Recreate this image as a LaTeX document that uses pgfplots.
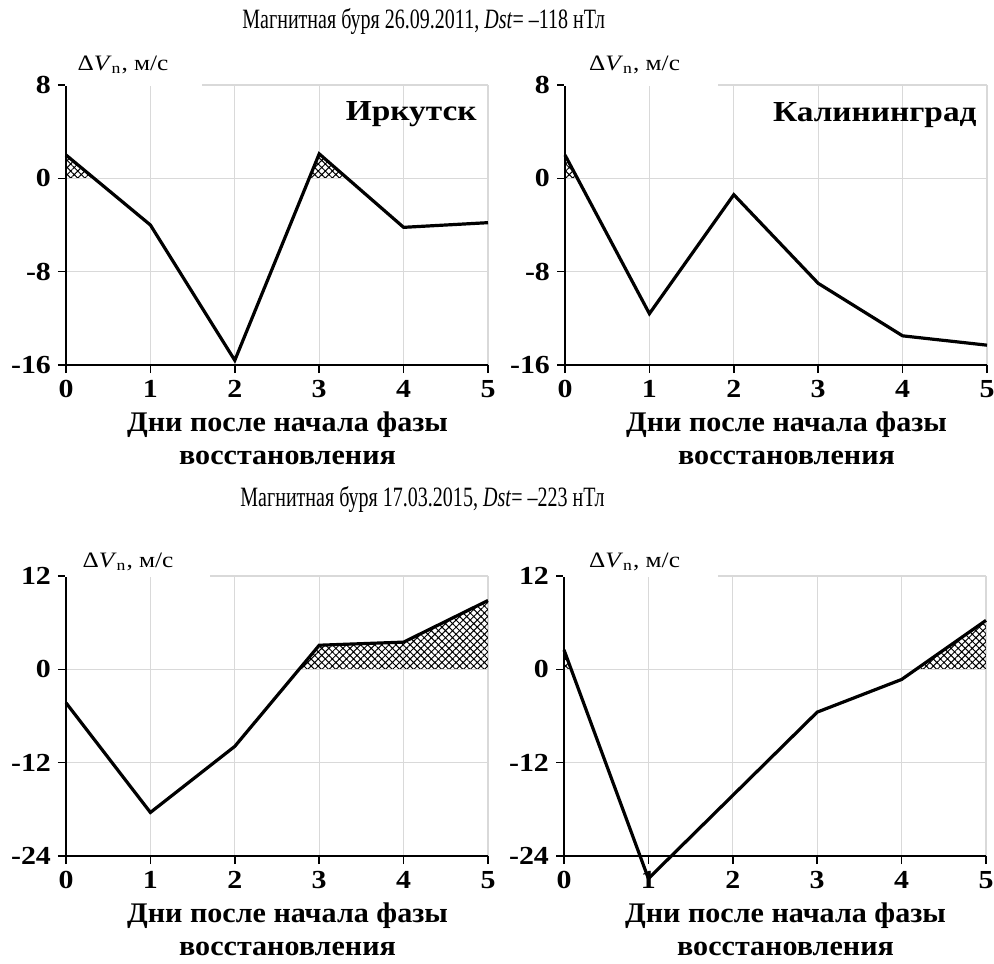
\documentclass[border=0pt]{standalone}
\usepackage{pgfplots}
\pgfplotsset{compat=1.18}
\usetikzlibrary{patterns.meta}
\usepackage{fontspec}
\setmainfont{Liberation Serif}
\newfontfamily\chartfont[FakeStretch=1.15]{Liberation Serif}
\newfontfamily\labelfont[FakeStretch=1.06]{Liberation Serif}
\newfontfamily\titlefont[FakeStretch=0.715]{Liberation Serif}

\pgfplotsset{
  panel/.style={
    scale only axis, width=211pt, height=140pt,
    xmin=0, xmax=5, enlargelimits=false, clip=false,
    axis lines=left, axis line style={-, black, line width=0.8pt},
    xtick={0,1,2,3,4,5}, xticklabels={0,1,2,3,4,5},
    grid=major, grid style={color=black!15, line width=0.6pt},
    tick align=outside, major tick length=4pt, tick style={black, line width=0.8pt},
    ticklabel style={font=\chartfont\bfseries\fontsize{13}{13}\selectfont},
    xlabel={Дни после начала фазы\\восстановления},
    xlabel style={font=\labelfont\bfseries\fontsize{14.2}{16.75}\selectfont, align=center,
      at={(axis description cs:0.525,0)}, anchor=north, inner sep=0pt, yshift=-23pt},
  },
  curve/.style={black, line width=1.6pt},
  hatch/.style={draw=none, pattern={Hatch[angle=45,distance=2.5pt,line width=0.5pt]}},
}

\begin{document}
\begin{tikzpicture}
\useasboundingbox (0,0) rectangle (497pt,-481.5pt);

% ---- Panel 1: Irkutsk, 2011
\begin{axis}[panel, at={(33pt,-182.5pt)}, anchor=south west,
  ymin=-16, ymax=8, ytick={-16,-8,0,8}, yticklabels={-16,-8,0,8}]
\begin{scope}
\clip ([yshift=0.5pt]axis cs:0,0) rectangle (axis cs:5,8);
\addplot[hatch] coordinates {(0,2.0) (1,-4.0) (2,-15.6) (3,2.1) (4,-4.2) (5,-3.8)} \closedcycle;
\end{scope}
\addplot[curve] coordinates {(0,2.0) (1,-4.0) (2,-15.6) (3,2.1) (4,-4.2) (5,-3.8)};
\end{axis}

% ---- Panel 2: Kaliningrad, 2011
\begin{axis}[panel, at={(282.5pt,-182.5pt)}, anchor=south west,
  ymin=-16, ymax=8, ytick={-16,-8,0,8}, yticklabels={-16,-8,0,8}]
\begin{scope}
\clip ([yshift=0.5pt]axis cs:0,0) rectangle (axis cs:5,8);
\addplot[hatch] coordinates {(0,2.0) (1,-11.6) (2,-1.4) (3,-9.0) (4,-13.5) (5,-14.3)} \closedcycle;
\end{scope}
\addplot[curve] coordinates {(0,2.0) (1,-11.6) (2,-1.4) (3,-9.0) (4,-13.5) (5,-14.3)};
\end{axis}

% ---- Panel 3: Irkutsk, 2015
\begin{axis}[panel, at={(33pt,-428pt)}, anchor=south west,
  ymin=-24, ymax=12, ytick={-24,-12,0,12}, yticklabels={-24,-12,0,12}]
\begin{scope}
\clip ([yshift=0.5pt]axis cs:0,0) rectangle (axis cs:5,12);
\addplot[hatch] coordinates {(0,-4.3) (1,-18.4) (2,-9.9) (3,3.1) (4,3.5) (5,8.85)} \closedcycle;
\end{scope}
\addplot[curve] coordinates {(0,-4.3) (1,-18.4) (2,-9.9) (3,3.1) (4,3.5) (5,8.85)};
\end{axis}

% ---- Panel 4: Kaliningrad, 2015
\begin{axis}[panel, at={(282pt,-428pt)}, anchor=south west,
  ymin=-24, ymax=12, ytick={-24,-12,0,12}, yticklabels={-24,-12,0,12}]
\begin{scope}
\clip ([yshift=0.5pt]axis cs:0,0) rectangle (axis cs:5,12);
\addplot[hatch] coordinates {(0,2.5) (1,-26.9) (2,-16.2) (3,-5.5) (4,-1.3) (5,6.3)} \closedcycle;
\end{scope}
\addplot[curve] coordinates {(0,2.5) (1,-26.9) (2,-16.2) (3,-5.5) (4,-1.3) (5,6.3)};
\end{axis}

% label boxes hiding the top grid line
\fill[white] (32.6pt,-20pt) rectangle (101pt,-42.9pt);
\fill[white] (282.1pt,-20pt) rectangle (359pt,-42.9pt);
\fill[white] (32.6pt,-271pt) rectangle (105pt,-288.4pt);
\fill[white] (281.6pt,-271pt) rectangle (359pt,-288.4pt);

\tikzset{vlab/.style={anchor=base, inner sep=0pt, font=\chartfont\fontsize{11}{11}\selectfont}}
\node[vlab] at (61.5pt,-35.3pt) {Δ\textit{V}\textsubscript{n}, м/с};
\node[vlab] at (317.25pt,-35.3pt) {Δ\textit{V}\textsubscript{n}, м/с};
\node[vlab] at (64pt,-283.8pt) {Δ\textit{V}\textsubscript{n}, м/с};
\node[vlab] at (317.25pt,-283.8pt) {Δ\textit{V}\textsubscript{n}, м/с};

\tikzset{stat/.style={anchor=base east, inner sep=0pt, font=\chartfont\bfseries\fontsize{14.5}{14.5}\selectfont}}
\node[stat] at (238.5pt,-60pt) {Иркутск};
\node[stat] at (488.5pt,-60.5pt) {Калининград};

\tikzset{ttl/.style={anchor=base west, inner sep=0pt, font=\titlefont\fontsize{14}{14}\selectfont}}
\node[ttl] at (121pt,-14.5pt) {Магнитная буря 26.09.2011, \textit{Dst}= –118 нТл};
\node[ttl] at (120pt,-253.3pt) {Магнитная буря 17.03.2015, \textit{Dst}= –223 нТл};
\end{tikzpicture}
\end{document}
